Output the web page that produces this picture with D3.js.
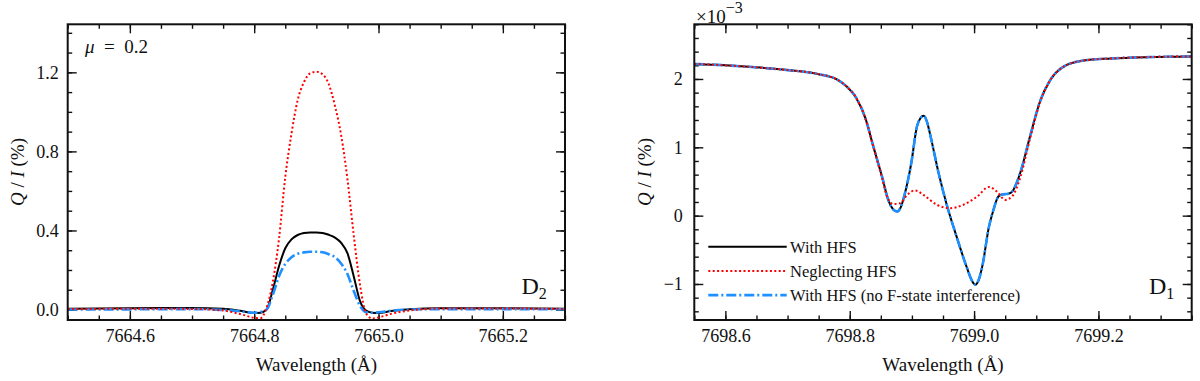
<!DOCTYPE html>
<html>
<head>
<meta charset="utf-8">
<script src="https://cdn.jsdelivr.net/npm/d3@7"></script>
<style>
  body { margin: 0; background: #fff; }
  svg text { font-family: "Liberation Serif", "Times New Roman", "DejaVu Serif", serif; fill: #111; }
</style>
</head>
<body>
<div id="chart"></div>
<script>
// D2 line (left panel), Q/I in %
const d2Wave = [7664.50, 7664.60, 7664.70, 7664.75, 7664.78, 7664.80, 7664.81, 7664.82, 7664.83, 7664.84,
    7664.85, 7664.86, 7664.87, 7664.88, 7664.89, 7664.90, 7664.91, 7664.92, 7664.93, 7664.94,
    7664.95, 7664.96, 7664.97, 7664.98, 7664.99, 7665.00, 7665.02, 7665.05, 7665.10, 7665.20, 7665.30];
const d2WithHfs = [0.004, 0.006, 0.008, 0.004, -0.008, -0.018, -0.016, 0.0, 0.10, 0.22,
    0.31, 0.355, 0.377, 0.387, 0.39, 0.39, 0.387, 0.378, 0.364, 0.337,
    0.285, 0.17, 0.045, -0.006, -0.016, -0.018, -0.008, 0.002, 0.007, 0.006, 0.004];
const d2NoHfs = [0.002, 0.004, 0.003, -0.005, -0.025, -0.042, -0.044, 0.01, 0.14, 0.36,
    0.67, 0.89, 1.06, 1.15, 1.195, 1.203, 1.19, 1.14, 1.03, 0.88,
    0.66, 0.38, 0.13, -0.02, -0.045, -0.04, -0.022, -0.005, 0.005, 0.005, 0.003];
const d2NoInterf = [0.0, 0.001, 0.002, -0.002, -0.01, -0.016, -0.012, 0.0, 0.075, 0.17,
    0.23, 0.265, 0.282, 0.289, 0.292, 0.292, 0.29, 0.28, 0.265, 0.232,
    0.18, 0.095, 0.02, -0.014, -0.016, -0.014, -0.006, 0.0, 0.002, 0.002, 0.001];

// D1 line (right panel), Q/I in units of 1e-3 %
const d1Wave = [7698.55, 7698.60, 7698.65, 7698.70, 7698.75, 7698.78, 7698.795, 7698.81, 7698.825, 7698.838,
    7698.852, 7698.862, 7698.870, 7698.876, 7698.882, 7698.888, 7698.899, 7698.908, 7698.914, 7698.919,
    7698.924, 7698.930, 7698.943, 7698.956, 7698.972, 7698.988, 7698.997, 7699.002, 7699.007, 7699.013,
    7699.024, 7699.031, 7699.039, 7699.045, 7699.055, 7699.062, 7699.074, 7699.090, 7699.106, 7699.123,
    7699.144, 7699.176, 7699.22, 7699.28, 7699.35];
const d1WithHfs = [2.22, 2.20, 2.17, 2.13, 2.07, 1.99, 1.89, 1.73, 1.43, 1.01,
    0.57, 0.23, 0.09, 0.06, 0.12, 0.30, 0.77, 1.30, 1.43, 1.46,
    1.38, 1.16, 0.62, 0.16, -0.31, -0.75, -0.96, -1.01, -0.95, -0.75,
    -0.16, 0.08, 0.28, 0.31, 0.32, 0.36, 0.62, 1.16, 1.67, 1.99,
    2.18, 2.27, 2.30, 2.32, 2.33];
const d1NoInterf = d1WithHfs.slice();
const d1NoHfsWave = [7698.55, 7698.60, 7698.65, 7698.70, 7698.75, 7698.78, 7698.795, 7698.81, 7698.825, 7698.838,
    7698.852, 7698.860, 7698.870, 7698.881, 7698.892, 7698.905, 7698.919, 7698.940, 7698.962, 7698.983,
    7699.005, 7699.024, 7699.037, 7699.050, 7699.061, 7699.074, 7699.090, 7699.106, 7699.123, 7699.144,
    7699.176, 7699.22, 7699.28, 7699.35];
const d1NoHfs = [2.22, 2.20, 2.17, 2.13, 2.07, 1.99, 1.89, 1.73, 1.43, 1.01,
    0.55, 0.28, 0.17, 0.18, 0.30, 0.37, 0.30, 0.16, 0.11, 0.16,
    0.28, 0.42, 0.35, 0.23, 0.28, 0.55, 1.13, 1.66, 1.99, 2.18,
    2.27, 2.30, 2.32, 2.33];

const legendLabels = ["With HFS", "Neglecting HFS", "With HFS (no F-state interference)"];

const W = 1200, H = 381;
const plotTop = 24.3, plotBottom = 320;
const serif = "'Liberation Serif', 'Times New Roman', 'DejaVu Serif', serif";

const svg = d3.select("#chart").append("svg")
    .attr("width", W)
    .attr("height", H)
    .attr("font-family", serif);

const styles = {
    black: { color: "#000", width: 2, dash: null },
    red: { color: "#ff0000", width: 2, dash: "2,2.4" },
    blue: { color: "#1e90ff", width: 2.6, dash: "10,3,2,3" }
};

function panel(opt) {
    const x = d3.scaleLinear().domain(opt.xDomain).range([opt.left, opt.right]);
    const y = d3.scaleLinear().domain(opt.yDomain).range([plotBottom, plotTop]);
    const g = svg.append("g");

    // clip
    g.append("clipPath").attr("id", opt.id)
        .append("rect")
        .attr("x", opt.left).attr("y", plotTop)
        .attr("width", opt.right - opt.left).attr("height", plotBottom - plotTop);

    // ticks, all pointing in
    const addAxis = (axis, tx, ty, labels) => {
        const a = g.append("g").attr("transform", `translate(${tx},${ty})`).call(axis);
        a.attr("font-family", serif);
        a.select(".domain").remove();
        a.selectAll("line").attr("stroke", "#111").attr("stroke-width", 1.4);
        if (!labels) a.selectAll("text").remove();
        else a.selectAll("text").attr("font-size", 18).attr("fill", "#111");
        return a;
    };
    addAxis(d3.axisBottom(x).tickValues(opt.xMinor).tickSize(-4.5).tickFormat(""), 0, plotBottom, false);
    addAxis(d3.axisTop(x).tickValues(opt.xMinor).tickSize(-4.5).tickFormat(""), 0, plotTop, false);
    addAxis(d3.axisBottom(x).tickValues(opt.xMajor).tickSize(-9).tickPadding(9.5).tickFormat(d3.format(".1f")), 0, plotBottom, true);
    addAxis(d3.axisTop(x).tickValues(opt.xMajor).tickSize(-9).tickFormat(""), 0, plotTop, false);
    addAxis(d3.axisLeft(y).tickValues(opt.yMinor).tickSize(-4.5).tickFormat(""), opt.left, 0, false);
    addAxis(d3.axisRight(y).tickValues(opt.yMinor).tickSize(-4.5).tickFormat(""), opt.right, 0, false);
    addAxis(d3.axisLeft(y).tickValues(opt.yMajor).tickSize(-9).tickPadding(opt.yPad).tickFormat(opt.yFormat), opt.left, 0, true);
    addAxis(d3.axisRight(y).tickValues(opt.yMajor).tickSize(-9).tickFormat(""), opt.right, 0, false);

    // curves
    const line = d3.line()
        .x(d => x(d[0]))
        .y(d => y(d[1]))
        .curve(d3.curveMonotoneX);
    const lines = g.append("g").attr("clip-path", `url(#${opt.id})`);
    opt.series.forEach(s => {
        const st = styles[s.style];
        lines.append("path")
            .datum(d3.zip(s.wave, s.values))
            .attr("d", line)
            .attr("fill", "none")
            .attr("stroke", st.color)
            .attr("stroke-width", st.width)
            .attr("stroke-dasharray", st.dash);
    });

    // frame
    g.append("rect")
        .attr("x", opt.left).attr("y", plotTop)
        .attr("width", opt.right - opt.left).attr("height", plotBottom - plotTop)
        .attr("fill", "none").attr("stroke", "#111").attr("stroke-width", 2);

    // axis titles
    g.append("text")
        .attr("x", (opt.left + opt.right) / 2).attr("y", 370.5)
        .attr("text-anchor", "middle").attr("font-size", 19)
        .text("Wavelength (Å)");
    const yl = g.append("text")
        .attr("transform", `translate(${opt.yTitleX},172) rotate(-90)`)
        .attr("text-anchor", "middle").attr("font-size", 19);
    yl.append("tspan").attr("font-style", "italic").text("Q");
    yl.append("tspan").text(" / ");
    yl.append("tspan").attr("font-style", "italic").text("I");
    yl.append("tspan").text(" (%)");

    // line label (D2 / D1)
    const lab = g.append("text")
        .attr("x", opt.dLabelX).attr("y", 294).attr("font-size", 24);
    lab.append("tspan").text("D");
    lab.append("tspan").attr("dy", 5).attr("font-size", 16).text(opt.dSub);

    return { g, x, y };
}

const leftPanel = panel({
    id: "clipL", left: 67.7, right: 565,
    xDomain: [7664.5, 7665.3], yDomain: [-0.053, 1.443],
    xMajor: [7664.6, 7664.8, 7665.0, 7665.2],
    xMinor: d3.range(0, 17).map(i => 7664.5 + i * 0.05),
    yMajor: [0, 0.4, 0.8, 1.2],
    yMinor: d3.range(0, 15).map(i => i * 0.1),
    yFormat: d3.format(".1f"), yPad: 9,
    yTitleX: 24, dLabelX: 521.5, dSub: "2",
    series: [
        { wave: d2Wave, values: d2WithHfs, style: "black" },
        { wave: d2Wave, values: d2NoInterf, style: "blue" },
        { wave: d2Wave, values: d2NoHfs, style: "red" }
    ]
});

const rightPanel = panel({
    id: "clipR", left: 694.3, right: 1191.7,
    xDomain: [7698.55, 7699.35], yDomain: [-1.527, 2.8],
    xMajor: [7698.6, 7698.8, 7699.0, 7699.2],
    xMinor: d3.range(0, 17).map(i => 7698.55 + i * 0.05),
    yMajor: [-1, 0, 1, 2],
    yMinor: d3.range(0, 22).map(i => -1.4 + i * 0.2),
    yFormat: d3.format("d"), yPad: 11.5,
    yTitleX: 651, dLabelX: 1149, dSub: "1",
    series: [
        { wave: d1Wave, values: d1WithHfs, style: "black" },
        { wave: d1Wave, values: d1NoInterf, style: "blue" },
        { wave: d1NoHfsWave, values: d1NoHfs, style: "red" }
    ]
});

// mu label
const mu = leftPanel.g.append("text").attr("x", 85).attr("y", 53.3)
    .attr("font-size", 19).attr("xml:space", "preserve");
mu.append("tspan").attr("font-style", "italic").text("μ");
mu.append("tspan").text("  =  0.2");

// exponent label
const ex = rightPanel.g.append("text").attr("x", 696).attr("y", 23.3).attr("font-size", 19);
ex.append("tspan").text("×10");
ex.append("tspan").attr("dy", -10).attr("font-size", 16).text("−3");

// legend
const legendStyles = ["black", "red", "blue"];
const legend = rightPanel.g.append("g");
legendLabels.forEach((t, i) => {
    const st = styles[legendStyles[i]];
    const ly = 246.7 + i * 24.2;
    legend.append("line")
        .attr("x1", 708.3).attr("x2", 786.7)
        .attr("y1", ly).attr("y2", ly)
        .attr("stroke", st.color).attr("stroke-width", st.width)
        .attr("stroke-dasharray", st.dash);
    legend.append("text")
        .attr("x", 790).attr("y", ly + 6.3)
        .attr("font-size", 16.5)
        .text(t);
});
</script>
</body>
</html>
